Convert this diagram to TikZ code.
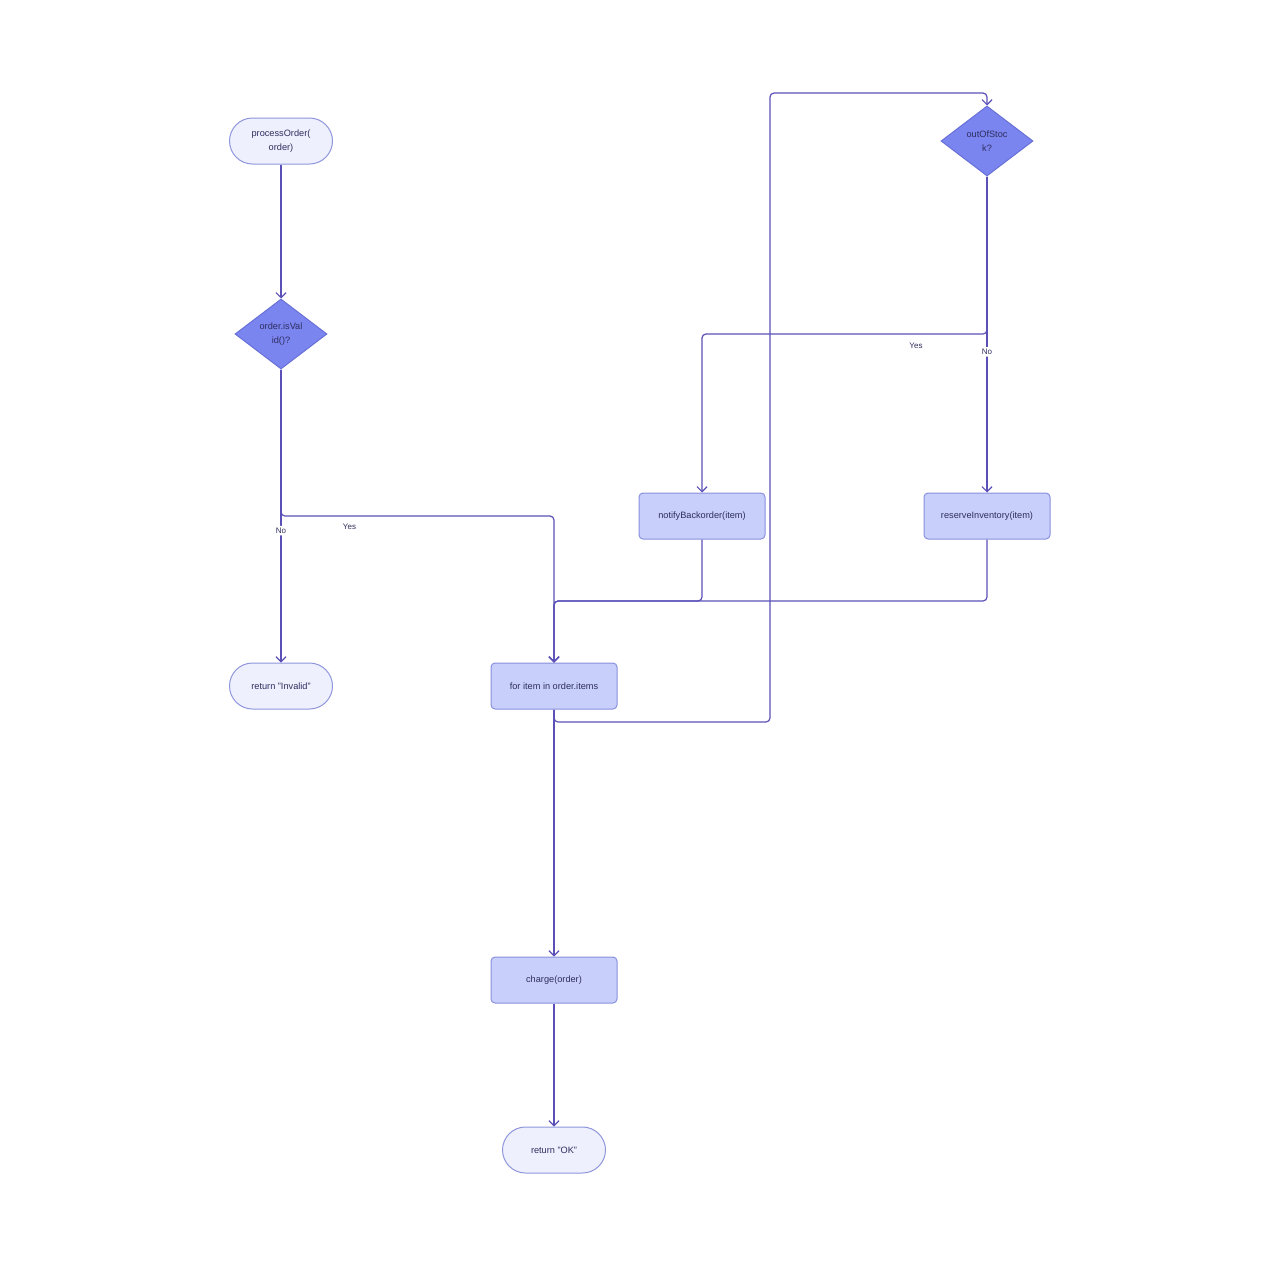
\documentclass[tikz,border=0pt]{standalone}
\usepackage{fontspec}
\setmainfont{Liberation Sans}
\usetikzlibrary{shapes.geometric,arrows.meta}
\definecolor{edge}{HTML}{5B50B8}
\definecolor{txt}{HTML}{2E2E5E}
\definecolor{termfill}{HTML}{EEF0FD}
\definecolor{termline}{HTML}{9096DC}
\definecolor{procfill}{HTML}{C8CFFA}
\definecolor{procline}{HTML}{8990DE}
\definecolor{decfill}{HTML}{7B85F0}
\definecolor{decline}{HTML}{6870D6}
\tikzset{
  x=0.5pt,y=-0.5pt,
  every node/.style={font=\fontsize{4.6}{6.8}\selectfont,text=txt,align=center,inner sep=0pt},
  term/.style={draw=termline,fill=termfill,rounded corners=11.5pt,minimum width=51.5pt,minimum height=23pt,line width=0.5pt},
  proc/.style={draw=procline,fill=procfill,rounded corners=2pt,minimum width=63pt,minimum height=23pt,line width=0.5pt},
  dec/.style={draw=decline,fill=decfill,diamond,aspect=1.3,minimum width=46pt,minimum height=35pt,line width=0.5pt},
  conn/.style={draw=edge,line width=0.6pt,rounded corners=2pt,-{Straight Barb[length=2.5pt,width=5pt]}},
  lab/.style={fill=white,inner sep=1pt,font=\fontsize{4}{5}\selectfont}
}
\begin{document}
\begin{tikzpicture}
\fill[white] (0,0) rectangle (1280,1280);
\useasboundingbox (0,0) rectangle (1280,1280);
\node[term] (start) at (281,141) {processOrder(\\order)};
\node[dec] (d1) at (281,334) {order.isVal\\id()?};
\node[term] (inv) at (281,686) {return "Invalid"};
\node[proc] (for) at (554,686) {for item in order.items};
\node[proc] (charge) at (554,980) {charge(order)};
\node[term] (ok) at (554,1150) {return "OK"};
\node[proc] (notify) at (702,516) {notifyBackorder(item)};
\node[proc] (reserve) at (987,516) {reserveInventory(item)};
\node[dec] (d2) at (987,141) {outOfStoc\\k?};
\draw[conn] (start) -- (d1);
\draw[conn] (d1) -- (inv) node[lab,pos=0.55] {No};
\draw[conn] (d1) |- (418,516) node[lab,pos=0.75,yshift=-5.5pt] {Yes} -| (for);
\draw[conn] (for.south) -- (554,722) -- (770,722) -- (770,93) -- (987,93) -- (d2.north);
\draw[conn] (d2) |- (845,334) node[lab,pos=0.75,yshift=-6pt] {Yes} -| (notify);
\draw[conn] (d2) -- (reserve) node[lab,pos=0.555] {No};
\draw[conn] (notify) |- (554,601) -- (for);
\draw[conn] (reserve) |- (554,601) -- (for);
\draw[conn] (for) -- (charge);
\draw[conn] (charge) -- (ok);
\end{tikzpicture}
\end{document}
